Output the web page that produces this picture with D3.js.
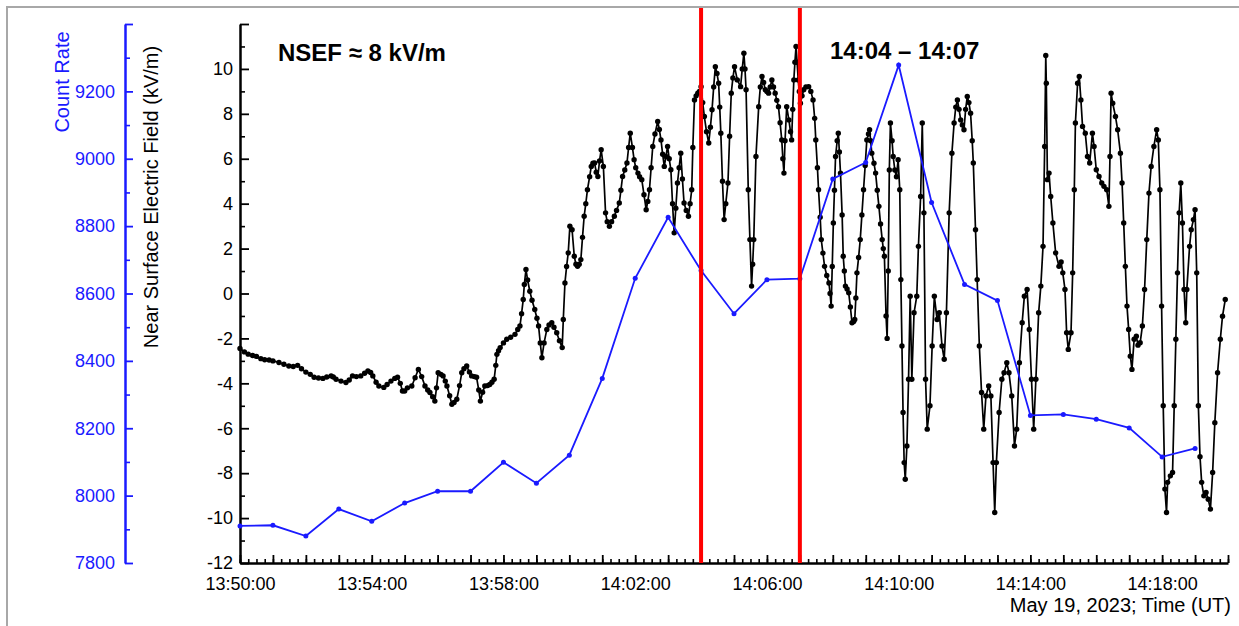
<!DOCTYPE html>
<html><head><meta charset="utf-8">
<script src="https://cdn.jsdelivr.net/npm/d3@7"></script>
<style>
html,body{margin:0;padding:0;background:#fff;}
svg{display:block;font-family:"Liberation Sans",Arial,sans-serif;}
</style></head><body>
<svg id="chart" width="1239" height="626"></svg>
<script>
// ---------------- DATA ----------------
const dayPrefix = "2023-05-19T";
const xStart = "13:50:00";
const xEnd = "14:20:00";
const xLabelTimes = ["13:50:00","13:54:00","13:58:00","14:02:00","14:06:00","14:10:00","14:14:00","14:18:00"];

const efTickValues = [-12,-10,-8,-6,-4,-2,0,2,4,6,8,10];
const efMinorTicks = [-11,-9,-7,-5,-3,-1,1,3,5,7,9,11];
const countTickValues = [7800,7900,8000,8100,8200,8300,8400,8500,8600,8700,8800,8900,9000,9100,9200,9300];
const countLabelTicks = [7800,8000,8200,8400,8600,8800,9000,9200];

// Count rate: one point per minute
const countTimes = ["13:50:00","13:51:00","13:52:00","13:53:00","13:54:00","13:55:00","13:56:00","13:57:00","13:58:00","13:59:00",
  "14:00:00","14:01:00","14:02:00","14:03:00","14:04:00","14:05:00","14:06:00","14:07:00","14:08:00","14:09:00",
  "14:10:00","14:11:00","14:12:00","14:13:00","14:14:00","14:15:00","14:16:00","14:17:00","14:18:00","14:19:00"];
const countValues = [7910,7912,7880,7960,7924,7978,8013,8013,8099,8037,
  8120,8348,8645,8826,8668,8540,8641,8644,8940,8989,
  9278,8870,8627,8579,8238,8241,8227,8201,8115,8140];

// Near surface electric field: [seconds after 13:50:00, kV/m]
const efSeries = [
[0,-2.45],[8,-2.6],[15,-2.7],[23,-2.76],[30,-2.8],[38,-2.9],[45,-2.95],[53,-2.96],[60,-3.0],[71,-3.07],
[80,-3.15],[89,-3.23],[97,-3.25],[105,-3.2],[112,-3.35],[120,-3.5],[128,-3.6],[135,-3.73],[143,-3.76],[151,-3.78],
[158,-3.72],[166,-3.67],[170,-3.72],[175,-3.82],[184,-3.9],[193,-3.96],[199,-3.85],[205,-3.67],[212,-3.7],[220,-3.67],
[227,-3.55],[233,-3.45],[238,-3.52],[242,-3.67],[248,-3.95],[253,-4.12],[262,-4.18],[268,-4.05],[275,-3.9],[282,-3.78],
[287,-3.73],[292,-4.0],[296,-4.34],[300,-4.34],[305,-4.2],[313,-4.12],[319,-3.75],[325,-3.38],[331,-3.7],[337,-4.12],
[342,-4.3],[346,-4.41],[351,-4.6],[355,-4.79],[358,-4.2],[361,-3.53],[366,-3.6],[370,-3.67],[374,-3.9],[377,-4.12],
[382,-4.55],[386,-4.93],[390,-4.85],[395,-4.71],[400,-4.1],[404,-3.53],[408,-3.35],[413,-3.23],[418,-3.5],[422,-3.67],
[427,-3.7],[431,-3.73],[435,-4.3],[438,-4.79],[442,-4.4],[446,-4.12],[451,-4.1],[455,-4.05],[459,-3.95],[463,-3.82],
[466,-3.2],[468,-2.71],[471,-2.55],[474,-2.41],[480,-2.2],[486,-2.04],[493,-1.95],[501,-1.82],[506,-1.6],[510,-1.45],
[513,-0.9],[516,-0.27],[518,0.4],[521,1.07],[524,0.6],[528,0.1],[532,-0.3],[537,-0.71],[541,-1.1],[544,-1.45],
[547,-2.2],[550,-2.86],[554,-2.2],[559,-1.6],[563,-1.4],[568,-1.3],[572,-1.5],[577,-1.75],[582,-2.1],[587,-2.41],
[589,-1.16],[592,0.47],[595,1.2],[598,1.81],[601,3.0],[605,2.84],[609,1.66],[612,1.3],[615,1.21],[618,1.3],
[621,1.51],[624,2.5],[627,3.44],[630,4.0],[633,4.62],[637,5.2],[640,5.66],[643,5.8],[646,5.81],[649,5.4],
[652,5.21],[655,5.9],[658,6.4],[662,5.66],[666,3.59],[669,3.2],[673,2.99],[677,3.2],[682,3.44],[686,3.7],
[691,4.03],[694,4.6],[697,5.21],[701,5.5],[705,5.81],[708,6.5],[711,7.14],[715,6.5],[718,5.96],[721,5.6],
[725,5.36],[728,5.2],[732,5.07],[736,4.4],[740,3.73],[743,4.1],[746,4.62],[749,5.6],[752,6.55],[756,7.1],
[761,7.66],[764,7.3],[767,6.84],[770,6.2],[773,5.66],[776,6.1],[779,6.55],[782,6.0],[785,5.51],[788,4.0],
[791,2.7],[794,3.8],[797,4.92],[800,5.6],[803,6.25],[806,5.1],[809,4.03],[813,3.7],[817,3.44],[820,4.0],
[823,4.62],[825,6.5],[828,8.62],[831,8.8],[834,8.92],[837,9.0],[840,9.21],[843,8.5],[846,7.88],[850,7.2],
[854,6.7],[857,7.4],[860,8.18],[863,9.2],[866,10.1],[869,9.8],[872,9.36],[874,8.3],[876,7.14],[879,5.0],
[882,3.29],[885,4.0],[889,4.92],[892,7.0],[895,8.92],[898,9.6],[901,10.1],[906,9.51],[912,9.21],[915,10.0],
[918,10.7],[920,10.0],[922,9.07],[926,4.62],[929,2.4],[932,0.33],[934,1.3],[936,2.4],[940,6.1],[945,8.32],
[948,9.2],[951,9.66],[954,9.4],[957,9.07],[960,9.0],[963,8.92],[966,9.2],[969,9.51],[972,9.2],[975,8.92],
[978,8.6],[981,8.32],[984,7.6],[987,6.84],[989,6.0],[991,5.36],[993,6.8],[996,8.32],[1000,7.73],[1003,7.2],
[1005,6.84],[1007,8.2],[1009,9.51],[1011,10.3],[1013,11.0],[1015,10.3],[1017,9.51],[1019,9.0],[1021,8.47],[1024,8.8],
[1027,9.07],[1031,9.2],[1036,9.21],[1040,9.0],[1044,8.62],[1047,7.8],[1049,6.84],[1052,5.6],[1054,4.62],[1057,3.4],
[1059,2.4],[1062,1.8],[1065,1.21],[1069,0.8],[1073,0.47],[1075,0.0],[1077,-0.56],[1079,1.2],[1081,3.14],[1083,4.6],
[1085,6.1],[1088,6.8],[1090,7.14],[1092,6.3],[1094,5.36],[1097,3.5],[1099,1.66],[1101,1.0],[1103,0.33],[1106,0.2],
[1109,0.03],[1112,-0.6],[1115,-1.3],[1118,-1.25],[1120,-1.16],[1122,-0.2],[1124,0.92],[1127,1.6],[1130,2.4],[1133,3.5],
[1136,4.62],[1139,5.7],[1142,6.84],[1145,7.1],[1147,7.29],[1149,6.8],[1151,6.25],[1155,5.8],[1158,5.36],[1161,4.6],
[1164,3.88],[1167,3.1],[1170,2.4],[1172,2.0],[1174,1.66],[1177,-1.0],[1179,-2.0],[1181,1.0],[1183,5.5],[1185,7.59],
[1188,6.8],[1190,6.1],[1193,5.5],[1196,5.2],[1199,5.96],[1202,4.62],[1204,0.62],[1206,-2.34],[1208,-5.3],[1210,-7.53],
[1212,-8.27],[1215,-6.79],[1218,-3.82],[1221,-0.12],[1224,-3.82],[1228,-0.86],[1233,-0.12],[1236,2.1],[1240,4.32],[1243,7.59],
[1246,3.59],[1249,-3.82],[1252,-6.04],[1257,-5.0],[1261,-2.34],[1265,-0.12],[1270,-1.16],[1274,-0.86],[1279,-2.34],[1283,-2.93],
[1287,-0.86],[1292,3.59],[1297,6.25],[1301,7.59],[1304,8.3],[1307,8.62],[1310,8.2],[1313,7.73],[1316,7.5],[1319,7.29],
[1322,8.2],[1325,8.77],[1328,8.5],[1331,8.03],[1334,6.8],[1336,5.81],[1340,2.84],[1343,0.62],[1347,-2.34],[1351,-4.41],
[1355,-6.04],[1359,-4.56],[1364,-4.12],[1368,-4.56],[1372,-7.53],[1375,-9.75],[1378,-7.53],[1383,-5.3],[1388,-3.82],[1392,-3.53],
[1397,-3.08],[1401,-3.53],[1406,-4.56],[1411,-6.79],[1415,-6.04],[1420,-3.08],[1425,-1.3],[1429,-0.12],[1434,0.18],[1438,-1.6],
[1442,-3.82],[1446,-6.04],[1450,-3.82],[1455,-0.86],[1459,0.33],[1463,2.1],[1466,6.55],[1468,10.6],[1469,9.36],[1471,5.07],
[1474,5.36],[1477,4.32],[1481,3.14],[1486,1.81],[1492,1.21],[1496,1.4],[1499,0.92],[1503,0.18],[1506,-1.75],[1509,-2.49],
[1514,-1.75],[1517,0.92],[1520,4.62],[1522,7.59],[1526,9.36],[1529,9.66],[1532,8.62],[1535,7.44],[1540,7.14],[1544,6.1],
[1548,5.81],[1553,7.14],[1556,6.55],[1560,5.51],[1565,5.21],[1570,4.92],[1574,4.77],[1579,4.62],[1583,3.88],[1585,6.1],
[1587,8.92],[1590,8.47],[1595,7.88],[1599,7.29],[1604,6.25],[1607,4.92],[1610,3.14],[1613,1.21],[1616,-0.56],[1619,-1.6],
[1622,-2.79],[1625,-3.38],[1629,-2.04],[1633,-1.9],[1636,-2.3],[1640,-2.19],[1644,-1.45],[1648,0.18],[1652,2.4],[1656,4.47],
[1660,5.66],[1665,6.55],[1670,7.29],[1673,6.84],[1676,4.62],[1679,-0.56],[1682,-5.0],[1685,-8.71],[1688,-9.75],[1690,-8.41],
[1695,-8.12],[1699,-7.97],[1702,-5.0],[1705,-2.04],[1708,0.92],[1711,3.59],[1714,4.92],[1717,3.14],[1720,0.18],[1723,-1.3],
[1725,0.18],[1730,2.1],[1733,2.84],[1737,3.29],[1740,3.73],[1743,0.92],[1746,-5.0],[1749,-7.27],[1752,-8.41],[1756,-9.01],
[1760,-8.86],[1764,-9.16],[1768,-9.6],[1772,-7.97],[1776,-5.75],[1781,-3.53],[1786,-2.04],[1790,-1.01],[1795,-0.27]
];

const markerTimes = ["14:04:00","14:07:00"];
const annoLeft = "NSEF \u2248 8 kV/m";
const annoRight = "14:04 \u2013 14:07";
const xTitle = "May 19, 2023; Time (UT)";
const efTitle = "Near Surface Electric Field (kV/m)";
const countTitle = "Count Rate";

// ---------------- DRAW ----------------
const BLUE = "#1a1aff";
const parse = s => new Date(dayPrefix + s + "Z");
const t0 = parse(xStart);
const svg = d3.select("#chart");

const x = d3.scaleUtc().domain([t0, parse(xEnd)]).range([240, 1228]);
const yEF = d3.scaleLinear().domain([-12, 12]).range([563, 24]);
const yCnt = d3.scaleLinear().domain([7800, 9400]).range([563, 24]);
const secToDate = s => new Date(t0.getTime() + s * 1000);

// frame
svg.append("path").attr("d", "M7,626 L7,7 L1239,7")
  .attr("fill", "none").attr("stroke", "#a8a8a8").attr("stroke-width", 2);

function styleAxis(g, color, width) {
  g.select(".domain").attr("stroke", color).attr("stroke-width", width);
  g.selectAll(".tick line").attr("stroke", color).attr("stroke-width", 1.8);
  g.selectAll(".tick text").attr("fill", color).style("font-size", "18px")
    .style("font-family", '"Liberation Sans", Arial, sans-serif');
}

// Blue count-rate axis
const gCnt = svg.append("g").attr("transform", "translate(125,0)");
gCnt.call(d3.axisLeft(yCnt).tickValues(countLabelTicks.concat([9400])).tickSizeInner(-8).tickSizeOuter(0).tickPadding(10)
  .tickFormat(d => countLabelTicks.includes(d) ? String(d) : ""));
styleAxis(gCnt, BLUE, 2.5);
const gCntMinor = svg.append("g").attr("transform", "translate(125,0)");
gCntMinor.call(d3.axisLeft(yCnt).tickValues(countTickValues.filter(v => !countLabelTicks.includes(v))).tickSizeInner(-5).tickSizeOuter(0).tickFormat(""));
gCntMinor.select(".domain").remove();
gCntMinor.selectAll(".tick line").attr("stroke", BLUE).attr("stroke-width", 1.6);

// Black EF axis
const gEF = svg.append("g").attr("transform", "translate(240,0)");
gEF.call(d3.axisLeft(yEF).tickValues(efTickValues.concat([12])).tickSizeInner(-9).tickSizeOuter(0).tickPadding(7)
  .tickFormat(d => efTickValues.includes(d) ? String(d) : ""));
styleAxis(gEF, "#000", 2.5);
const gEFMinor = svg.append("g").attr("transform", "translate(240,0)");
gEFMinor.call(d3.axisLeft(yEF).tickValues(efMinorTicks).tickSizeInner(-5).tickSizeOuter(0).tickFormat(""));
gEFMinor.select(".domain").remove();
gEFMinor.selectAll(".tick line").attr("stroke", "#000").attr("stroke-width", 1.6);

// X axis
const labelSet = new Set(xLabelTimes.map(s => parse(s).getTime()));
const fmt = d3.utcFormat("%H:%M:%S");
const gX = svg.append("g").attr("transform", "translate(0,563)");
gX.call(d3.axisBottom(x).ticks(d3.utcMinute.every(1)).tickSizeInner(-8).tickSizeOuter(0).tickPadding(14)
  .tickFormat(d => labelSet.has(d.getTime()) ? fmt(d) : ""));
styleAxis(gX, "#000", 2.5);
const gXMinor = svg.append("g").attr("transform", "translate(0,563)");
gXMinor.call(d3.axisBottom(x).ticks(d3.utcSecond.every(15)).tickSizeInner(-4).tickSizeOuter(0).tickFormat(""));
gXMinor.select(".domain").remove();
gXMinor.selectAll(".tick line").attr("stroke", "#000").attr("stroke-width", 1.6);

// EF series
const efLine = d3.line().x(d => x(secToDate(d[0]))).y(d => yEF(d[1]));
svg.append("path").datum(efSeries).attr("d", efLine)
  .attr("fill", "none").attr("stroke", "#000").attr("stroke-width", 1.7).attr("stroke-linejoin", "round");
svg.append("g").selectAll("circle").data(efSeries).join("circle")
  .attr("cx", d => x(secToDate(d[0]))).attr("cy", d => yEF(d[1])).attr("r", 2.7).attr("fill", "#000");

// Count-rate series
const cntData = countTimes.map((t, i) => [parse(t), countValues[i]]);
const cntLine = d3.line().x(d => x(d[0])).y(d => yCnt(d[1]));
svg.append("path").datum(cntData).attr("d", cntLine)
  .attr("fill", "none").attr("stroke", BLUE).attr("stroke-width", 1.8);
svg.append("g").selectAll("circle").data(cntData).join("circle")
  .attr("cx", d => x(d[0])).attr("cy", d => yCnt(d[1])).attr("r", 2.5).attr("fill", BLUE);

// Red markers
svg.append("g").selectAll("line").data(markerTimes).join("line")
  .attr("x1", d => x(parse(d))).attr("x2", d => x(parse(d)))
  .attr("y1", 8).attr("y2", 563).attr("stroke", "#ff0000").attr("stroke-width", 4);

// Texts
svg.append("text").attr("x", 278).attr("y", 61).text(annoLeft)
  .style("font-size", "24px").style("font-weight", "bold").attr("fill", "#000");
svg.append("text").attr("x", 830).attr("y", 59).text(annoRight)
  .style("font-size", "24px").style("font-weight", "bold").attr("fill", "#000");
svg.append("text").attr("x", 1231).attr("y", 612).attr("text-anchor", "end").text(xTitle)
  .style("font-size", "20px").attr("fill", "#000");
svg.append("text").attr("transform", "translate(158,197) rotate(-90)").attr("text-anchor", "middle")
  .text(efTitle).style("font-size", "20px").attr("fill", "#000");
svg.append("text").attr("transform", "translate(69,82) rotate(-90)").attr("text-anchor", "middle")
  .text(countTitle).style("font-size", "20px").attr("fill", BLUE);
</script>
</body></html>
